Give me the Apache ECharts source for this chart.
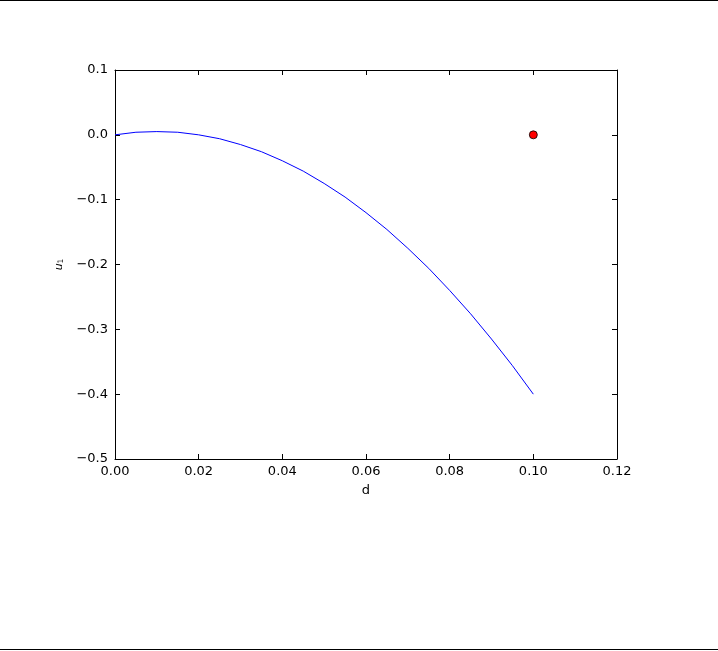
<!DOCTYPE html>
<html>
<head>
<meta charset="utf-8">
<script src="https://cdn.jsdelivr.net/npm/echarts@6/dist/echarts.min.js"></script>
<style>
  html,body{margin:0;padding:0;background:#fff;}
  #main{width:718px;height:651px;}
</style>
</head>
<body>
<div id="main"></div>
<script>
// curve (d, u1)
var dValues = [0, 0.005, 0.01, 0.015, 0.02, 0.025, 0.03, 0.035, 0.04, 0.045, 0.05,
               0.055, 0.06, 0.065, 0.07, 0.075, 0.08, 0.085, 0.09, 0.095, 0.1];
var u1Values = [0, 0.004, 0.005, 0.004, 0, -0.006, -0.015, -0.026, -0.04, -0.056, -0.075,
                -0.096, -0.12, -0.146, -0.175, -0.206, -0.24, -0.276, -0.315, -0.356, -0.4];
// the single red point
var pointD = [0.1];
var pointU = [0.0];

var font = 'DejaVu Sans';

function fmt(v, n){
  if (Math.abs(v) < 1e-9) v = 0;
  var s = v.toFixed(n);
  return s.replace('-', '\u2212');
}

var lineData = dValues.map(function(d, i){ return [d, u1Values[i]]; });
var pointData = pointD.map(function(d, i){ return [d, pointU[i]]; });

var axisLine = {show: true, onZero: false, lineStyle: {color: '#000', width: 1}};
var tickIn = {show: true, inside: true, length: 5, lineStyle: {color: '#000', width: 1}};

var chart = echarts.init(document.getElementById('main'));
chart.setOption({
  animation: false,
  backgroundColor: '#fff',
  grid: {left: 115, top: 70, width: 502, height: 389, containLabel: false},
  xAxis: [{
    type: 'value', min: 0, max: 0.12, interval: 0.02, position: 'bottom',
    name: 'd', nameLocation: 'middle', nameGap: 25,
    nameTextStyle: {fontFamily: font, fontSize: 13, color: '#000'},
    axisLine: axisLine, axisTick: tickIn, splitLine: {show: false},
    axisLabel: {fontFamily: font, fontSize: 13, color: '#000', margin: 6,
      formatter: function(v){ return fmt(v, 2); }}
  }, {
    type: 'value', min: 0, max: 0.12, interval: 0.02, position: 'top',
    axisLine: axisLine, axisTick: tickIn, splitLine: {show: false},
    axisLabel: {show: false}
  }],
  yAxis: [{
    type: 'value', min: -0.5, max: 0.1, interval: 0.1, position: 'left',
    name: '{u|u}{s|1}', nameLocation: 'middle', nameGap: 41, nameRotate: 90,
    nameTextStyle: {
      rich: {
        u: {fontFamily: font, fontStyle: 'italic', fontSize: 11, color: '#000'},
        s: {fontFamily: font, fontSize: 7.5, color: '#000', padding: [5, 0, 0, 0]}
      }
    },
    axisLine: axisLine, axisTick: tickIn, splitLine: {show: false},
    axisLabel: {fontFamily: font, fontSize: 13, color: '#000', margin: 7,
      formatter: function(v){ return fmt(v, 1); }}
  }, {
    type: 'value', min: -0.5, max: 0.1, interval: 0.1, position: 'right',
    axisLine: axisLine, axisTick: tickIn, splitLine: {show: false},
    axisLabel: {show: false}
  }],
  series: [{
    type: 'line',
    data: lineData,
    symbol: 'none',
    showSymbol: false,
    lineStyle: {color: '#0000ff', width: 1},
    z: 2
  }, {
    type: 'scatter',
    data: pointData,
    symbolSize: 8,
    itemStyle: {color: '#ff0000', opacity: 1, borderColor: '#000', borderWidth: 0.8},
    z: 3
  }],
  graphic: [
    {type: 'line', shape: {x1: 0, y1: 0.5, x2: 718, y2: 0.5}, style: {stroke: '#000', lineWidth: 1}},
    {type: 'line', shape: {x1: 0, y1: 649.5, x2: 718, y2: 649.5}, style: {stroke: '#000', lineWidth: 1}}
  ]
});
</script>
</body>
</html>
